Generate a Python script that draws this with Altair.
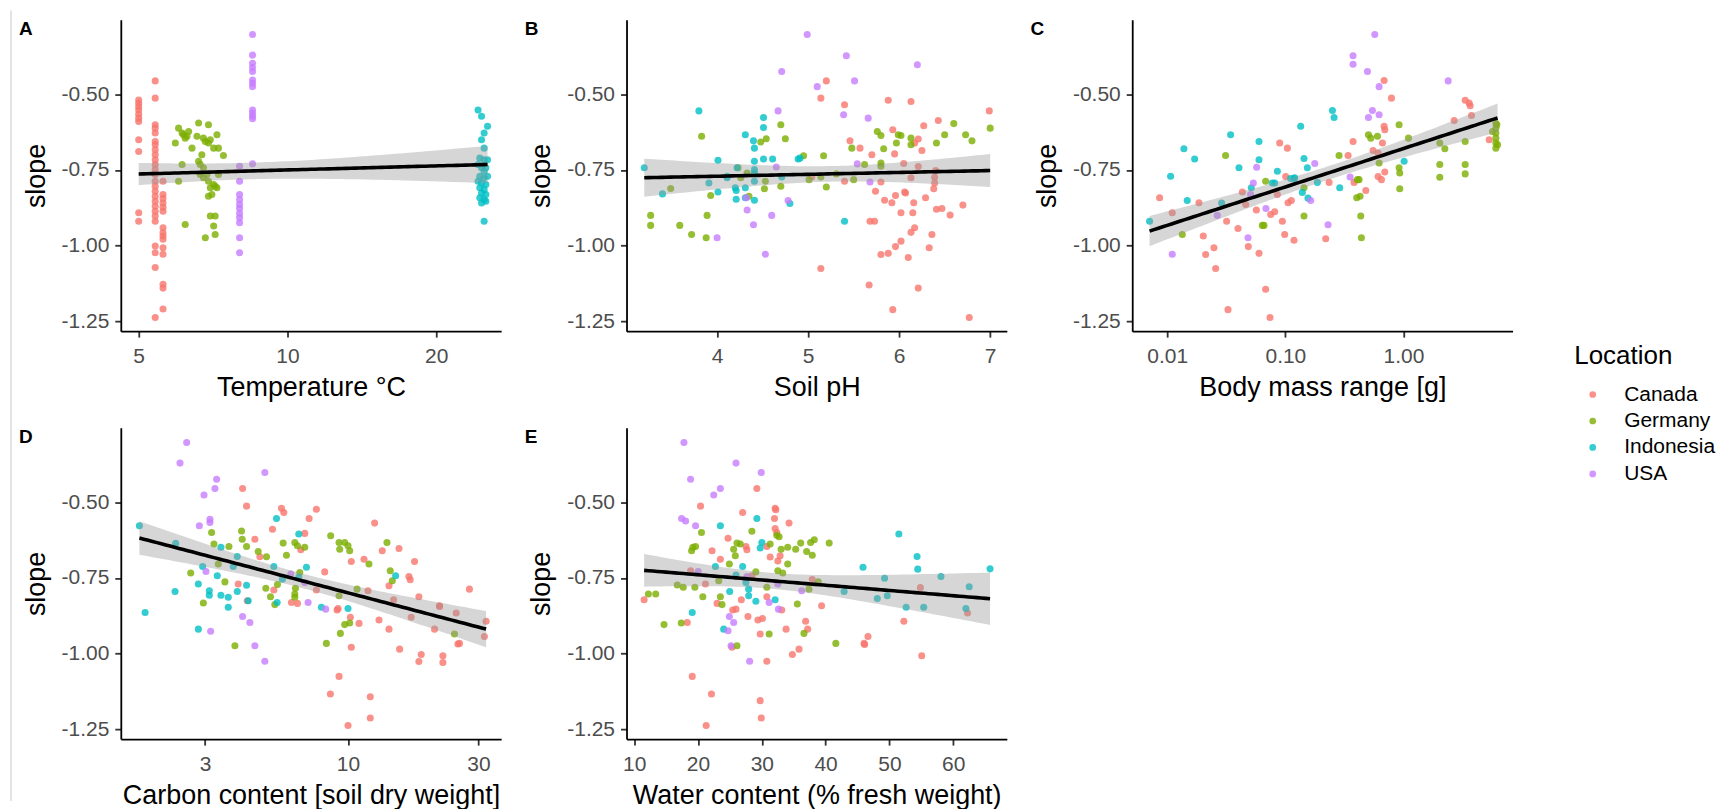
import numpy as np
import pandas as pd
import altair as alt

LOCS = ["Canada", "Germany", "Indonesia", "USA"]
COLORS = ["#F8766D", "#7CAE00", "#00BFC4", "#C77CFF"]

# ---------------- Panel A: Temperature ----------------
A_canada = [(5.0, y) for y in [-0.519, -0.530, -0.541, -0.552, -0.566, -0.579, -0.590, -0.650, -0.689, -0.891, -0.919]] + \
    [(5.4, y) for y in [-0.456, -0.513, -0.601, -0.612, -0.628, -0.656, -0.667, -0.683, -0.700, -0.716, -0.732, -0.749,
                        -0.765, -0.787, -0.804, -0.820, -0.837, -0.853, -0.870, -0.886, -0.902, -0.919, -1.001, -1.023,
                        -1.072, -1.237]] + \
    [(5.6, y) for y in [-0.787, -0.831, -0.844, -0.859, -0.873, -0.886, -0.941, -0.957, -0.968, -0.979, -1.007, -1.028,
                        -1.127, -1.140, -1.209]]
A_germany = [(5.93, -0.661), (6.02, -0.612), (6.12, -0.628), (6.16, -0.634), (6.21, -0.645), (6.26, -0.639),
             (6.31, -0.623), (6.41, -0.678), (6.56, -0.639), (6.61, -0.595), (6.71, -0.700), (6.76, -0.645),
             (6.82, -0.656), (6.92, -0.601), (6.92, -0.661), (6.98, -0.650), (7.09, -0.678), (7.20, -0.634),
             (7.25, -0.678), (7.42, -0.702), (6.12, -0.732), (6.02, -0.787), (6.21, -0.930), (6.61, -0.721),
             (6.66, -0.732), (6.76, -0.743), (6.82, -0.974), (6.87, -0.765), (6.92, -0.787), (6.98, -0.809),
             (7.03, -0.831), (7.09, -0.798), (7.14, -0.804), (7.20, -0.809), (7.25, -0.765), (6.92, -0.837),
             (6.98, -0.902), (7.14, -0.902), (7.09, -0.935), (7.14, -0.963), (6.66, -0.765), (6.76, -0.776)]
A_indonesia = [(24.3, -0.552), (24.7, -0.573), (25.4, -0.606), (25.0, -0.628), (24.7, -0.650), (25.0, -0.678),
               (24.5, -0.711), (25.0, -0.716), (25.4, -0.716), (24.3, -0.732), (24.7, -0.743), (25.2, -0.743),
               (25.0, -0.754), (24.5, -0.771), (25.0, -0.776), (25.4, -0.771), (24.3, -0.787), (24.7, -0.793),
               (25.2, -0.798), (24.5, -0.809), (25.0, -0.815), (24.7, -0.826), (25.2, -0.831), (24.5, -0.842),
               (25.0, -0.848), (24.7, -0.859), (25.2, -0.853), (25.0, -0.919)]
A_usa = [(8.0, y) for y in [-0.738, -0.787, -0.831, -0.848, -0.864, -0.877, -0.894, -0.908, -0.924, -0.974, -1.023]] + \
    [(8.5, y) for y in [-0.303, -0.371, -0.398, -0.412, -0.425, -0.453, -0.464, -0.475, -0.552, -0.563, -0.573,
                        -0.581, -0.730]]

# ---------------- Panel B: Soil pH ----------------
B_canada = [(5.04, -0.773), (5.14, -0.513), (5.20, -0.456), (5.14, -1.075), (5.40, -0.535), (5.40, -0.787),
            (5.46, -0.654), (5.57, -0.678), (5.68, -0.919), (5.70, -0.700), (5.73, -0.919), (5.74, -0.820),
            (5.67, -1.130), (5.80, -0.790), (5.80, -1.029), (5.84, -0.850), (5.88, -0.520), (5.88, -1.025),
            (5.92, -0.858), (5.93, -0.617), (5.95, -0.697), (5.96, -1.003), (5.93, -1.211), (5.96, -0.834),
            (6.02, -0.891), (6.02, -0.985), (6.05, -0.729), (6.07, -0.826), (6.10, -1.039), (6.13, -0.524),
            (6.13, -0.776), (6.15, -0.891), (6.16, -0.858), (6.17, -0.941), (6.17, -0.661), (6.21, -0.648),
            (6.21, -0.739), (6.21, -1.140), (6.25, -0.686), (6.27, -0.604), (6.29, -0.842), (6.33, -1.007),
            (6.36, -0.963), (6.38, -0.812), (6.39, -0.774), (6.39, -0.793), (6.40, -0.752), (6.41, -0.880),
            (6.43, -0.587), (6.47, -0.877), (6.56, -0.899), (6.70, -0.866), (6.77, -1.237), (6.99, -0.555),
            (6.13, -0.956), (6.06, -0.823)]
B_germany = [(3.27, -0.900), (3.27, -0.933), (3.49, -0.811), (3.59, -0.933), (3.72, -0.963), (3.83, -0.639),
             (3.88, -0.974), (3.89, -0.900), (3.93, -0.834), (4.23, -0.743), (4.26, -0.776), (4.33, -0.760),
             (4.35, -0.837), (4.48, -0.658), (4.54, -0.647), (4.53, -0.787), (4.52, -0.812), (4.70, -0.601),
             (4.70, -0.804), (4.75, -0.647), (4.95, -0.703), (5.01, -0.782), (5.14, -0.773), (5.17, -0.703),
             (5.20, -0.806), (5.31, -0.763), (5.48, -0.678), (5.50, -0.782), (5.62, -0.732), (5.76, -0.623),
             (5.80, -0.636), (5.80, -0.727), (5.80, -0.738), (5.83, -0.680), (5.97, -0.661), (5.99, -0.634),
             (6.02, -0.636), (6.13, -0.645), (6.13, -0.667), (6.41, -0.661), (6.50, -0.634), (6.60, -0.597),
             (6.73, -0.634), (6.80, -0.654), (7.00, -0.612)]
B_indonesia = [(3.20, -0.743), (3.40, -0.829), (3.80, -0.555), (3.91, -0.793), (4.01, -0.718), (4.01, -0.823),
               (4.11, -0.776), (4.20, -0.809), (4.21, -0.818), (4.21, -0.847), (4.22, -0.743), (4.31, -0.634),
               (4.31, -0.809), (4.31, -0.842), (4.40, -0.654), (4.41, -0.678), (4.41, -0.721), (4.41, -0.749),
               (4.41, -0.760), (4.41, -0.787), (4.41, -0.850), (4.51, -0.577), (4.51, -0.610), (4.51, -0.714),
               (4.61, -0.714), (4.71, -0.773), (4.80, -0.861), (4.89, -0.714), (4.91, -0.711), (5.40, -0.919),
               (4.11, -0.771)]
B_usa = [(4.00, -0.974), (4.32, -0.842), (4.33, -0.882), (4.40, -0.931), (4.53, -1.028), (4.60, -0.900),
         (4.65, -0.740), (4.67, -0.555), (4.71, -0.425), (4.78, -0.851), (4.99, -0.303), (5.10, -0.475),
         (5.39, -0.568), (5.42, -0.373), (5.51, -0.456), (5.54, -0.730), (5.66, -0.579), (5.68, -0.790),
         (6.20, -0.403)]

# ---------------- Panel C: Body mass range ----------------
C_canada = [(0.00861, -0.842), (0.01102, -0.891), (0.01855, -0.858), (0.02018, -0.968), (0.02113, -1.029),
            (0.02484, -1.007), (0.02568, -1.075), (0.03182, -0.919), (0.03267, -1.211), (0.03973, -0.943),
            (0.04322, -0.823), (0.04612, -0.864), (0.04854, -1.003), (0.05680, -0.882), (0.05981, -1.025),
            (0.06808, -1.144), (0.07412, -1.237), (0.07514, -0.897), (0.08124, -0.888), (0.08557, -0.831),
            (0.08953, -0.661), (0.09432, -0.919), (0.09866, -0.963), (0.1007, -0.772), (0.1040, -0.678),
            (0.1054, -0.858), (0.1124, -0.851), (0.1184, -0.982), (0.2345, -0.791), (0.2196, -0.977),
            (0.3397, -0.702), (0.3743, -0.656), (0.3819, -0.791), (0.4797, -0.818), (0.5531, -0.686),
            (0.6098, -0.772), (0.6513, -0.782), (0.6640, -0.661), (0.6858, -0.606), (0.6949, -0.757),
            (0.6858, -0.455), (0.7915, -0.513), (2.687, -0.587), (3.331, -0.520), (3.600, -0.529),
            (3.672, -0.538), (3.768, -0.570), (5.319, -0.650), (0.6098, -0.694), (0.6949, -0.617)]
C_germany = [(0.01340, -0.963), (0.03118, -0.702), (0.06383, -0.933), (0.06592, -0.933), (0.06808, -0.787),
             (0.1438, -0.809), (0.1438, -0.902), (0.2849, -0.702), (0.4207, -0.782), (0.4292, -0.837),
             (0.4347, -0.902), (0.4403, -0.974), (0.5052, -0.634), (0.5284, -0.645), (0.6021, -0.639),
             (0.6222, -0.727), (0.9183, -0.601), (0.9183, -0.743), (0.9302, -0.760), (0.9302, -0.812),
             (1.103, -0.645), (2.031, -0.661), (2.031, -0.732), (2.031, -0.774), (2.240, -0.680),
             (3.331, -0.656), (3.331, -0.732), (3.331, -0.763), (6.058, -0.596), (6.058, -0.612),
             (6.058, -0.628), (6.058, -0.645), (6.058, -0.661), (6.058, -0.678), (6.180, -0.601),
             (6.266, -0.667), (5.675, -0.623), (0.4074, -0.782), (0.4018, -0.842)]
C_indonesia = [(0.00708, -0.919), (0.01067, -0.771), (0.01384, -0.680), (0.01476, -0.851), (0.01705, -0.714),
               (0.02886, -0.859), (0.03441, -0.634), (0.04048, -0.743), (0.05150, -0.809), (0.05981, -0.656),
               (0.05981, -0.716), (0.08124, -0.793), (0.08557, -0.754), (0.1184, -0.778), (0.1199, -0.776),
               (0.1348, -0.606), (0.1392, -0.824), (0.1438, -0.712), (0.1535, -0.743), (0.1555, -0.843),
               (0.1867, -0.791), (0.2503, -0.554), (0.2585, -0.577), (0.2886, -0.809), (1.013, -0.721),
               (0.1110, -0.778), (0.07760, -0.793)]
C_usa = [(0.01102, -1.028), (0.02653, -0.900), (0.04827, -0.974), (0.05080, -0.831), (0.05353, -0.793),
         (0.05714, -0.741), (0.06851, -0.877), (0.1774, -0.729), (0.1640, -0.851), (0.2299, -0.931),
         (0.3532, -0.773), (0.3743, -0.373), (0.3743, -0.401), (0.4955, -0.425), (0.5052, -0.577),
         (0.5458, -0.554), (0.5714, -0.303), (0.6222, -0.475), (0.6222, -0.568), (2.391, -0.456)]

# ---------------- Panel D: Carbon content ----------------
D_canada = [(4.116, -0.455), (4.256, -0.513), (4.564, -0.622), (4.760, -0.680), (3.967, -0.770), (4.280, -0.825),
            (5.294, -0.589), (5.354, -0.790), (5.710, -0.520), (5.823, -0.534), (6.211, -0.831), (6.532, -0.834),
            (6.718, -0.657), (6.947, -0.603), (7.206, -0.554), (7.662, -0.523), (7.662, -0.790), (8.218, -0.730),
            (8.620, -1.133), (9.119, -0.856), (9.195, -0.851), (9.273, -1.075), (10.0, -1.237), (10.20, -0.880),
            (10.28, -0.696), (10.28, -0.979), (10.97, -0.900), (11.44, -0.688), (11.83, -0.792), (12.06, -1.142),
            (12.06, -1.212), (12.51, -0.569), (12.98, -0.889), (13.34, -0.660), (14.12, -0.776), (14.12, -0.919),
            (14.68, -0.822), (15.36, -0.653), (15.44, -0.985), (16.70, -0.745), (16.88, -0.756), (17.02, -0.880),
            (17.51, -0.696), (18.16, -0.812), (18.16, -1.026), (18.52, -1.003), (20.72, -0.919), (21.61, -0.844),
            (22.23, -1.007), (22.23, -1.029), (24.86, -0.866), (25.21, -0.968), (27.80, -0.787), (31.53, -0.943),
            (31.98, -0.893), (25.56, -0.966), (21.61, -0.842)]
D_germany = [(2.659, -0.734), (2.958, -0.833), (3.171, -0.600), (3.234, -0.638), (3.354, -0.704), (3.547, -0.763),
             (3.669, -0.646), (3.858, -0.974), (4.080, -0.595), (4.103, -0.622), (4.256, -0.646), (4.694, -0.663),
             (5.034, -0.680), (5.006, -0.784), (5.206, -0.812), (5.399, -0.838), (5.521, -0.772), (5.791, -0.635),
             (5.955, -0.675), (6.388, -0.633), (6.423, -0.784), (6.388, -0.803), (6.388, -0.814), (6.532, -0.644),
             (6.662, -0.732), (6.947, -0.649), (8.334, -0.966), (8.644, -0.611), (9.273, -0.633), (9.325, -0.655),
             (9.376, -0.933), (9.723, -0.633), (10.0, -0.644), (10.14, -0.660), (9.723, -0.904), (10.14, -0.899),
             (10.79, -0.787), (11.93, -0.704), (13.88, -0.633), (14.27, -0.726), (14.52, -0.759), (24.51, -0.935),
             (9.273, -0.809)]
D_indonesia = [(1.726, -0.578), (1.811, -0.864), (2.330, -0.795), (2.343, -0.636), (2.836, -0.919), (2.836, -0.770),
               (2.941, -0.712), (3.110, -0.792), (3.110, -0.807), (3.326, -0.743), (3.430, -0.649), (3.430, -0.807),
               (3.648, -0.814), (3.648, -0.847), (3.805, -0.712), (3.935, -0.679), (3.935, -0.795), (4.256, -0.774),
               (4.315, -0.825), (5.354, -0.712), (5.506, -0.831), (5.475, -0.554), (5.758, -0.754), (6.606, -0.605),
               (7.045, -0.715), (7.992, -0.847), (10.0, -0.851), (14.93, -0.743), (6.606, -0.748)]
D_usa = [(2.430, -0.371), (2.570, -0.303), (2.860, -0.578), (2.974, -0.476), (3.024, -0.729), (3.127, -0.556),
         (3.127, -0.567), (3.145, -0.926), (3.261, -0.455), (3.307, -0.424), (4.116, -0.877), (4.377, -0.897),
         (4.564, -0.974), (4.964, -0.402), (4.964, -1.025), (6.176, -0.737), (6.947, -0.765), (7.145, -0.831),
         (8.288, -0.853)]

# ---------------- Panel E: Water content ----------------
E_canada = [(11.56, -0.822), (18.32, -0.897), (18.84, -0.726), (19.10, -1.075), (20.40, -0.513), (21.17, -0.770),
            (21.28, -1.237), (22.11, -1.133), (22.21, -0.660), (22.99, -0.834), (23.51, -0.688), (24.71, -0.619),
            (25.33, -0.979), (25.44, -0.856), (25.96, -0.853), (26.79, -0.822), (27.00, -0.534), (27.52, -0.646),
            (27.67, -0.657), (27.83, -0.877), (28.45, -0.743), (29.23, -0.455), (29.39, -0.889), (30.11, -0.884),
            (30.79, -0.646), (30.79, -1.025), (30.79, -0.812), (31.31, -0.681), (32.09, -0.587), (32.09, -0.520),
            (32.20, -0.525), (31.99, -0.554), (32.35, -0.600), (32.51, -0.694), (32.87, -0.677), (33.13, -0.856),
            (34.27, -0.569), (33.80, -0.919), (34.79, -1.003), (35.83, -0.985), (36.87, -0.893), (37.18, -0.919),
            (37.91, -0.755), (39.37, -0.842), (46.02, -0.966), (46.12, -0.970), (46.64, -0.943), (52.26, -0.893),
            (54.85, -0.782), (55.06, -1.007), (62.24, -0.866), (29.75, -1.155), (29.91, -1.212), (29.75, -0.935)]
E_germany = [(12.23, -0.803), (13.38, -0.803), (14.68, -0.904), (16.76, -0.773), (17.38, -0.899), (17.69, -0.781),
             (19.00, -0.660), (19.20, -0.649), (19.51, -0.781), (19.62, -0.646), (20.55, -0.600), (20.76, -0.812),
             (23.25, -0.759), (23.51, -0.812), (23.77, -0.838), (24.92, -0.704), (25.59, -0.655), (25.85, -0.677),
             (26.11, -0.635), (26.63, -0.638), (28.45, -0.596), (29.07, -0.730), (30.79, -0.781), (31.15, -0.935),
             (31.31, -0.638), (32.35, -0.609), (32.51, -0.726), (32.71, -0.614), (33.28, -0.734), (33.03, -0.655),
             (34.06, -0.649), (34.06, -0.704), (35.31, -0.655), (35.57, -0.836), (36.09, -0.635), (36.61, -0.933),
             (37.03, -0.663), (37.39, -0.787), (37.65, -0.633), (37.91, -0.675), (38.22, -0.624), (38.85, -0.763),
             (40.56, -0.635), (41.60, -0.966), (26.11, -0.974)]
E_indonesia = [(19.10, -0.864), (22.73, -0.712), (23.51, -0.578), (24.03, -0.919), (24.97, -0.795), (25.96, -0.740),
               (27.00, -0.712), (27.52, -0.765), (27.94, -0.787), (27.94, -0.809), (29.07, -0.827), (29.23, -0.554),
               (29.75, -0.651), (30.01, -0.633), (32.09, -0.822), (42.90, -0.795), (45.86, -0.715), (48.10, -0.818),
               (49.24, -0.751), (49.66, -0.809), (51.48, -0.605), (52.62, -0.847), (54.33, -0.679), (54.44, -0.721),
               (55.37, -0.847), (58.08, -0.745), (61.98, -0.851), (62.50, -0.779), (65.77, -0.720)]
E_usa = [(17.43, -0.554), (18.06, -0.562), (17.80, -0.303), (18.84, -0.424), (19.62, -0.578), (20.03, -0.729),
         (22.47, -0.476), (23.51, -0.455), (24.71, -0.924), (24.92, -0.877), (25.59, -0.897), (25.18, -0.974),
         (25.96, -0.371), (27.67, -0.745), (28.09, -1.025), (29.91, -0.402), (31.15, -0.831), (32.51, -0.770),
         (32.61, -0.853), (36.25, -0.792)]

PANELS = [
    dict(tag="A", title="Temperature \u00b0C", log=True, domain=[4.60, 27.06], ticks=[5, 10, 20], fmt="d",
         pts={"Canada": A_canada, "Germany": A_germany, "Indonesia": A_indonesia, "USA": A_usa}),
    dict(tag="B", title="Soil pH", log=False, domain=[3.005, 7.183], ticks=[4, 5, 6, 7], fmt="d",
         pts={"Canada": B_canada, "Germany": B_germany, "Indonesia": B_indonesia, "USA": B_usa}),
    dict(tag="C", title="Body mass range [g]", log=True, domain=[0.00505, 8.39], ticks=[0.01, 0.1, 1.0], fmt=".2f",
         pts={"Canada": C_canada, "Germany": C_germany, "Indonesia": C_indonesia, "USA": C_usa}),
    dict(tag="D", title="Carbon content [soil dry weight]", log=True, domain=[1.476, 36.3], ticks=[3, 10, 30], fmt="d",
         pts={"Canada": D_canada, "Germany": D_germany, "Indonesia": D_indonesia, "USA": D_usa}),
    dict(tag="E", title="Water content (% fresh weight)", log=False, domain=[8.8, 68.4],
         ticks=[10, 20, 30, 40, 50, 60], fmt="d",
         pts={"Canada": E_canada, "Germany": E_germany, "Indonesia": E_indonesia, "USA": E_usa}),
]

Y_DOMAIN = [-1.282, -0.254]
Y_TICKS = [-1.25, -1.0, -0.75, -0.5]
W, H = 381, 312
FONT = "Liberation Sans"
T_CRIT = 1.976  # 95% t quantile, df ~ 150


def smooth(df, log):
    t = np.log10(df["x"].to_numpy()) if log else df["x"].to_numpy()
    y = df["y"].to_numpy()
    n = len(t)
    b, a = np.polyfit(t, y, 1)
    res = y - (a + b * t)
    s = np.sqrt(np.sum(res ** 2) / (n - 2))
    tbar = t.mean()
    sxx = np.sum((t - tbar) ** 2)
    g = np.linspace(t.min(), t.max(), 80)
    yh = a + b * g
    se = s * np.sqrt(1.0 / n + (g - tbar) ** 2 / sxx)
    xs = 10 ** g if log else g
    return pd.DataFrame({"x": xs, "fit": yh, "lo": yh - T_CRIT * se, "hi": yh + T_CRIT * se})


def panel(p, border=False):
    rows = []
    for loc in LOCS:
        for x, y in p["pts"][loc]:
            rows.append({"x": x, "y": y, "Location": loc})
    df = pd.DataFrame(rows)
    sm = smooth(df, p["log"])

    xscale = alt.Scale(type="log" if p["log"] else "linear", domain=p["domain"], nice=False, zero=False)
    yscale = alt.Scale(domain=Y_DOMAIN, nice=False, zero=False)
    xaxis = alt.Axis(title=p["title"], values=p["ticks"], format=p["fmt"], labelPadding=8, titlePadding=8)
    yaxis = alt.Axis(title="slope", values=Y_TICKS, labelPadding=6, titlePadding=11,
                     labelExpr="replace(format(datum.value, '.2f'), '\u2212', '-')")

    pts = alt.Chart(df).mark_circle(size=50, opacity=0.8).encode(
        x=alt.X("x:Q", scale=xscale, axis=xaxis),
        y=alt.Y("y:Q", scale=yscale, axis=yaxis),
        color=alt.Color("Location:N", scale=alt.Scale(domain=LOCS, range=COLORS),
                        legend=alt.Legend(title="Location", orient="none", legendX=1456, legendY=324,
                                          symbolType="circle", symbolSize=45, symbolOpacity=0.8,
                                          symbolOffset=8, labelOffset=21, rowPadding=4.5,
                                          titlePadding=15, padding=0)),
    )
    band = alt.Chart(sm).mark_area(color="#999999", opacity=0.4).encode(
        x=alt.X("x:Q", scale=xscale), y=alt.Y("lo:Q", scale=yscale), y2="hi:Q")
    line = alt.Chart(sm).mark_line(color="black", strokeWidth=3.6).encode(
        x=alt.X("x:Q", scale=xscale), y=alt.Y("fit:Q", scale=yscale))
    tag = alt.Chart(pd.DataFrame({"t": [p["tag"]]})).mark_text(
        align="left", baseline="top", font=FONT, fontSize=19, fontWeight="bold", color="black"
    ).encode(x=alt.value(-102), y=alt.value(0), text="t:N")
    layers = [pts, band, line, tag]
    if border:
        edge = alt.Chart(pd.DataFrame({"e": [0]})).mark_rule(color="#C8C8C8", strokeWidth=1).encode(
            x=alt.value(-110), y=alt.value(-418), y2=alt.value(H + 62))
        layers.append(edge)
    return alt.layer(*layers).properties(width=W, height=H)


charts = [panel(p, border=(p["tag"] == "D")) for p in PANELS]

chart = alt.concat(*charts, columns=3, spacing={"row": 96.7, "column": 125.6}, bounds="flush").properties(
    padding={"left": 2, "top": 1, "right": 0, "bottom": 0},
    background="white",
).configure_view(stroke=None).configure_axis(
    grid=False, domainColor="black", domainWidth=1.8, tickColor="#333333", tickWidth=1.8, tickSize=6,
    labelColor="#4D4D4D", labelFont=FONT, labelFontSize=21, titleFont=FONT, titleFontSize=27,
    titleFontWeight="normal", titleColor="black",
).configure_legend(
    titleFont=FONT, titleFontSize=26, titleFontWeight="normal", titleColor="black",
    labelFont=FONT, labelFontSize=21, labelColor="black",
)

chart.save("out.html", embed_options={"renderer": "svg", "actions": False})
